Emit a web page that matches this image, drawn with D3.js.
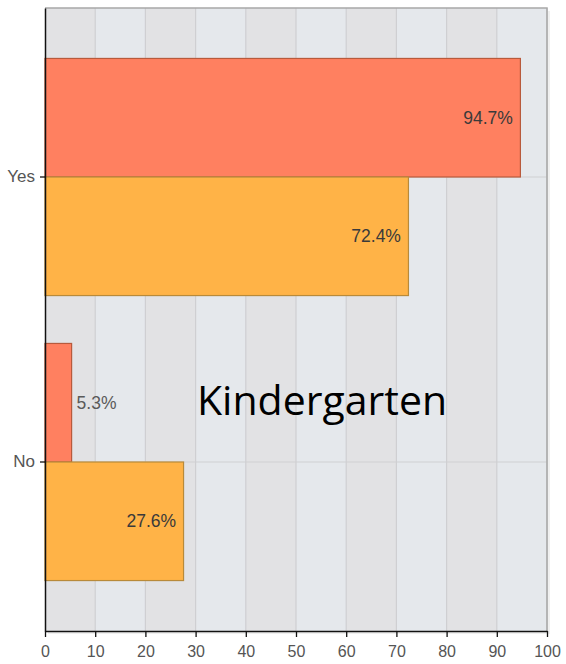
<!DOCTYPE html>
<html><head><meta charset="utf-8">
<script src="https://cdn.jsdelivr.net/npm/d3@7"></script>
<style>body{margin:0;background:#fff}svg{display:block}</style>
</head><body>
<script>
const categories = ["Yes", "No"];
const seriesNames = ["Series A", "Series B"];
const seriesA = [94.7, 5.3];
const seriesB = [72.4, 27.6];
const xTicks = [0,10,20,30,40,50,60,70,80,90,100];
const overlayTitle = "Kindergarten";

(function(){
const W = 566, H = 664;
const pL = 45, pR = 547, pT = 8, pB = 631;
const svg = d3.select("body").append("svg").attr("width", W).attr("height", H);

const x = d3.scaleLinear().domain([0,100]).range([pL, pR]);
const y = d3.scaleBand().domain(categories).range([pT, pB]).paddingInner(0.168).paddingOuter(0.177);
const ys = d3.scaleBand().domain(seriesNames).range([0, y.bandwidth()]);

// shadow
svg.append("rect").attr("x", pL+3).attr("y", pT+3).attr("width", pR-pL).attr("height", pB-pT)
  .attr("fill", "#f0f0f0");
// stripes
const stripes = xTicks.slice(0,-1);
svg.selectAll("rect.stripe").data(stripes).join("rect").attr("class","stripe")
  .attr("x", d => x(d)).attr("y", pT).attr("width", d => x(d+10)-x(d)).attr("height", pB-pT)
  .attr("fill", (d,i) => i%2===0 ? "#e2e2e4" : "#e5e8ec");
// gridlines
svg.selectAll("line.vg").data(xTicks.slice(1)).join("line").attr("class","vg")
  .attr("x1", d => x(d)).attr("x2", d => x(d)).attr("y1", pT).attr("y2", pB)
  .attr("stroke", "#cfcfd2").attr("stroke-width", 1.2);
svg.selectAll("line.hg").data(categories).join("line").attr("class","hg")
  .attr("x1", pL).attr("x2", pR).attr("y1", d => y(d)+y.bandwidth()/2).attr("y2", d => y(d)+y.bandwidth()/2)
  .attr("stroke", "#cfcfd2").attr("stroke-width", 1.2);
// frame top/right
svg.append("path").attr("d", `M${pL},${pT}H${pR}V${pB}`).attr("fill","none")
  .attr("stroke","#a8a8a8").attr("stroke-width",1.5);

const colors = {"Series A": "#ff8060", "Series B": "#ffb347"};
const strokes = {"Series A": "#b85a3c", "Series B": "#b88a3a"};
const data = [];
categories.forEach((c,i) => {
  data.push({cat:c, s:"Series A", v:seriesA[i]});
  data.push({cat:c, s:"Series B", v:seriesB[i]});
});
svg.selectAll("rect.bar").data(data).join("rect").attr("class","bar")
  .attr("x", x(0)).attr("y", d => y(d.cat)+ys(d.s))
  .attr("width", d => x(d.v)-x(0)).attr("height", ys.bandwidth())
  .attr("fill", d => colors[d.s]).attr("stroke", d => strokes[d.s]).attr("stroke-width", 1.2);

svg.selectAll("text.val").data(data).join("text").attr("class","val")
  .attr("x", d => d.v > 15 ? x(d.v)-7.5 : x(d.v)+5)
  .attr("y", d => y(d.cat)+ys(d.s)+ys.bandwidth()/2)
  .attr("dy", "0.35em")
  .attr("text-anchor", d => d.v > 15 ? "end" : "start")
  .attr("font-family", "Liberation Sans, Arial, sans-serif").attr("font-size", 17.5)
  .attr("fill", d => d.v > 15 ? "#3a3a3a" : "#5a5a5a")
  .text(d => d.v.toFixed(1) + "%");

// axes
const xAxis = svg.append("g").attr("transform", `translate(0,${pB})`)
  .call(d3.axisBottom(x).tickValues(xTicks).tickSize(6).tickSizeOuter(0));
xAxis.select(".domain").attr("stroke","#111").attr("stroke-width",1.5);
xAxis.selectAll(".tick line").attr("stroke","#111").attr("stroke-width",1.3);
xAxis.selectAll("text").attr("font-family","Liberation Sans, Arial, sans-serif").attr("font-size",16).attr("fill","#555").attr("dy","1.05em");

const yAxis = svg.append("g").attr("transform", `translate(${pL},0)`)
  .call(d3.axisLeft(y).tickSize(5).tickSizeOuter(0));
yAxis.select(".domain").attr("stroke","#111").attr("stroke-width",1.5);
yAxis.selectAll(".tick line").attr("stroke","#111").attr("stroke-width",1.3);
yAxis.selectAll("text").attr("font-family","Liberation Sans, Arial, sans-serif").attr("font-size",17).attr("fill","#555").attr("x",-10);

svg.append("text").attr("x", 197).attr("y", 415)
  .attr("font-family", "Open Sans, Noto Sans, sans-serif").attr("font-size", 41).attr("fill","#000")
  .text(overlayTitle);
})();
</script>
</body></html>
